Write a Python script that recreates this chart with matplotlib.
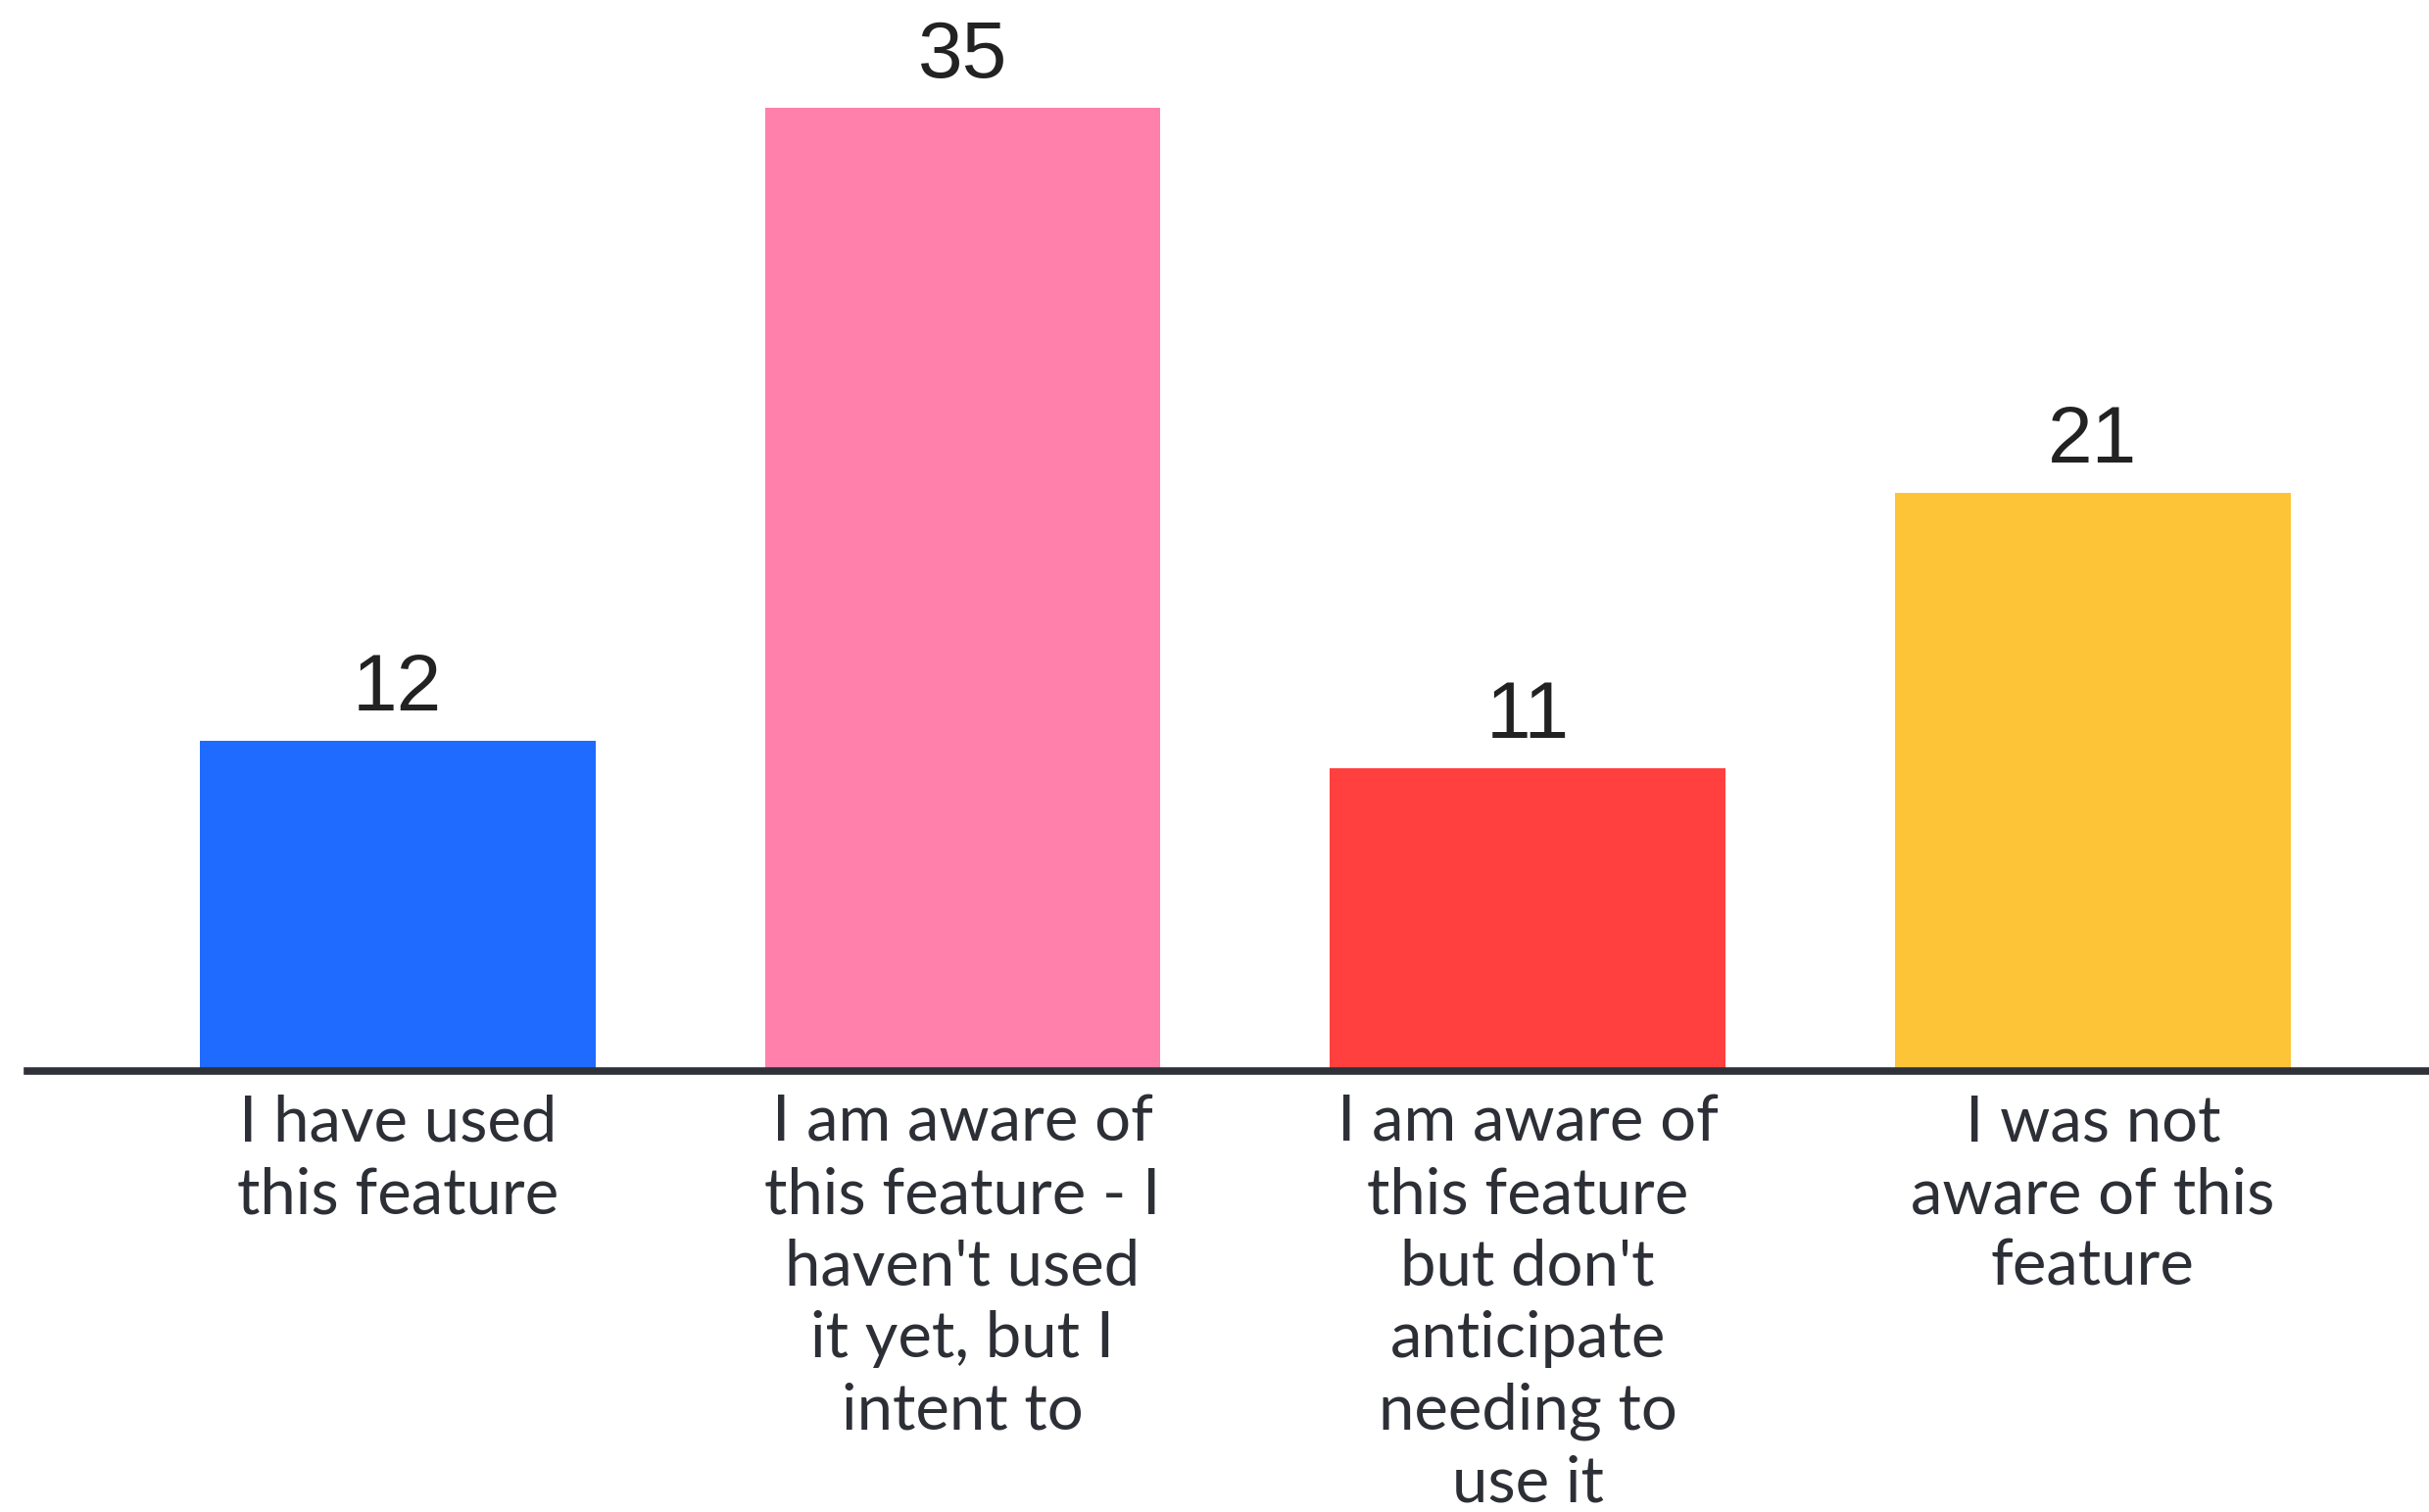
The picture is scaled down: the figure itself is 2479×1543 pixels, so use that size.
import matplotlib.pyplot as plt

categories = [
    "I have used\nthis feature",
    "I am aware of\nthis feature - I\nhaven't used\nit yet, but I\nintent to",
    "I am aware of\nthis feature\nbut don't\nanticipate\nneeding to\nuse it",
    "I was not\naware of this\nfeature",
]
values = [12, 35, 11, 21]
colors = ["#1f6bff", "#ff80aa", "#ff403f", "#fdc437"]

W, H = 2479, 1543
fig = plt.figure(figsize=(W / 100, H / 100), dpi=100)
base = (H - 1093) / H
ax = fig.add_axes([28 / W, base, 1 - 28 / W, 1 - base])

xs = list(range(len(values)))
ax.bar(xs, values, width=0.7, color=colors)
ax.set_xlim(-0.655, 3.595)
ax.set_ylim(0, 38.9)

for s in ["top", "left", "right"]:
    ax.spines[s].set_visible(False)
ax.spines["bottom"].set_linewidth(5.5)
ax.spines["bottom"].set_color("#2e3138")
ax.set_yticks([])
ax.set_xticks([])

for x, v in zip(xs, values):
    ax.annotate(str(v), (x, v), xytext=(0, 10), textcoords="offset points",
                ha="center", va="bottom", fontsize=59, color="#222222",
                family="Liberation Sans")

for x, lab in zip(xs, categories):
    ax.annotate(lab, (x, 0), xytext=(0, -17), textcoords="offset points",
                ha="center", va="top", fontsize=47, color="#2d2f36",
                family="Lato", linespacing=1.3)

fig.savefig("out.png", dpi=100, facecolor="white")
